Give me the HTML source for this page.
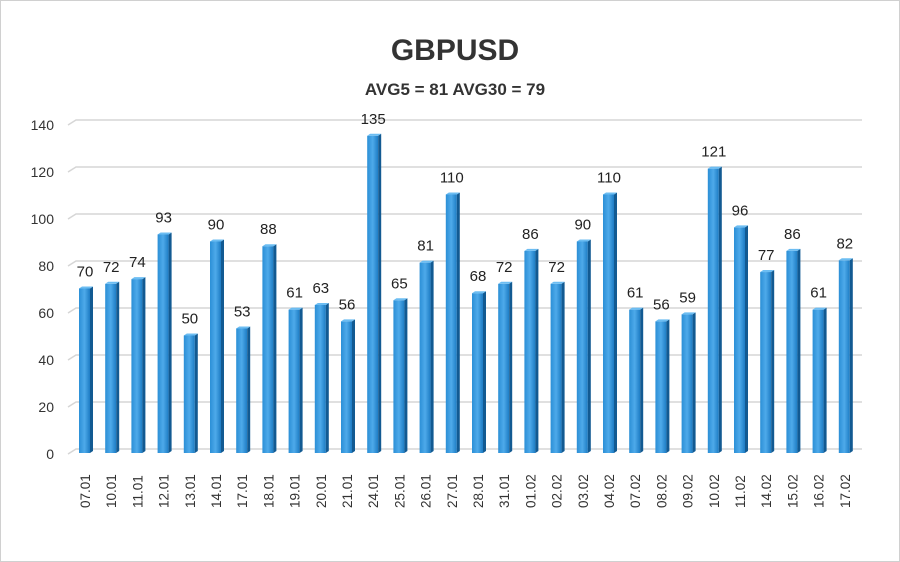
<!DOCTYPE html><html><head><style>body{margin:0;background:#fff}svg{display:block}</style></head><body>
<svg width="900" height="562" xmlns="http://www.w3.org/2000/svg" font-family="Liberation Sans, sans-serif">
<defs><linearGradient id="g" x1="0" x2="1"><stop offset="0" stop-color="#2b8fd6"/><stop offset="0.5" stop-color="#4eaaea"/><stop offset="1" stop-color="#1d7cc4"/></linearGradient></defs>
<rect x="0.5" y="0.5" width="899" height="561" fill="#fff" stroke="#d0d0d0"/>
<text x="455" y="60" font-size="30" font-weight="bold" text-anchor="middle" fill="#333">GBPUSD</text>
<text x="455" y="95" font-size="17" font-weight="bold" text-anchor="middle" fill="#333">AVG5 = 81 AVG30 = 79</text>
<g id="grid" stroke="#d6d6d6" stroke-width="1.5" fill="none"></g>
<g id="yl" font-size="14" fill="#333" text-anchor="end"></g>
<g id="bars"></g>
</svg>
<script>
var d=[["07.01",70],["10.01",72],["11.01",74],["12.01",93],["13.01",50],["14.01",90],["17.01",53],["18.01",88],["19.01",61],["20.01",63],["21.01",56],["24.01",135],["25.01",65],["26.01",81],["27.01",110],["28.01",68],["31.01",72],["01.02",86],["02.02",72],["03.02",90],["04.02",110],["07.02",61],["08.02",56],["09.02",59],["10.02",121],["11.02",96],["14.02",77],["15.02",86],["16.02",61],["17.02",82]];
var G=document.getElementById("grid"),Y=document.getElementById("yl"),B=document.getElementById("bars"),s="";
for(var k=0;k<=7;k++){var y=449-47*k;G.innerHTML+='<path d="M68 '+(y+5)+' L76 '+y+' L862 '+y+'"/>';Y.innerHTML+='<text x="54" y="'+(y+10)+'">'+(k*20)+'</text>';}
d.forEach(function(e,i){var x=79+i*26.2,t=453-e[1]*2.35,h=453-t;
s+='<rect x="'+x+'" y="'+t+'" width="11" height="'+h+'" fill="url(#g)"/>';
s+='<polygon points="'+(x+11)+','+t+' '+(x+14)+','+(t-2)+' '+(x+14)+','+(451)+' '+(x+11)+',453" fill="#125a92"/>';
s+='<polygon points="'+x+','+t+' '+(x+3)+','+(t-2)+' '+(x+14)+','+(t-2)+' '+(x+11)+','+t+'" fill="#6cbdf2"/>';
s+='<text x="'+(x+6)+'" y="'+(t-12)+'" font-size="15" fill="#222" text-anchor="middle">'+e[1]+'</text>';
s+='<text transform="translate('+(x+11)+',508) rotate(-90)" font-size="13.5" fill="#333">'+e[0]+'</text>';});
B.innerHTML=s;
</script>
</body></html>
